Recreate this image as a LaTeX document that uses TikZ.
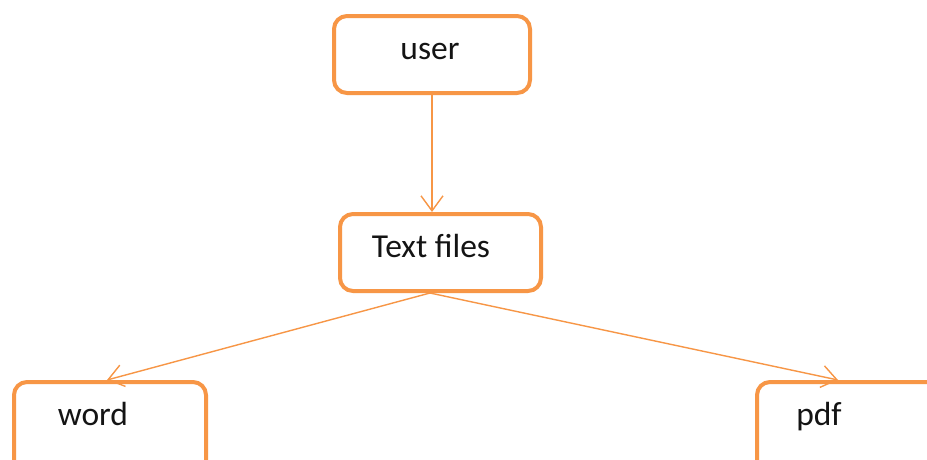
\documentclass[tikz,border=0pt]{standalone}
\usepackage{fontspec}
\setmainfont{Carlito}
\usetikzlibrary{arrows.meta}
\definecolor{accent}{HTML}{F79646}
\definecolor{ink}{HTML}{141414}
\tikzset{
  box/.style={draw=accent, line width=4pt, rounded corners=13pt, fill=white, inner sep=0pt},
  lbl/.style={text=ink, font=\fontsize{33.5}{40}\selectfont, inner sep=0pt, anchor=base},
  link/.style={draw=accent, line width=1.4pt, -{Straight Barb[length=15pt,width=22pt,line width=1.4pt]}}
}
\begin{document}
\begin{tikzpicture}[x=1pt,y=-1pt]
  \useasboundingbox (0,0) rectangle (927,459);
  \clip (0,0) rectangle (927,459);
  \fill[white] (0,0) rectangle (927,459);

  % boxes (outer edges of the strokes measured from the layout)
  \node[box, minimum width=196pt, minimum height=77pt] (user) at (432,54.5) {};
  \node[box, minimum width=201pt, minimum height=77pt] (tf)   at (440.5,252.5) {};
  \node[box, minimum width=192pt, minimum height=110pt] (word) at (110,437) {};
  \node[box, minimum width=240pt, minimum height=110pt] (pdf)  at (877,437) {};

  % labels
  \node[lbl] (userlbl) at (430,59) {user};
  \node[lbl] (tflbl)   at (431,257) {Text files};
  \node[lbl] (wordlbl) at (93,425) {word};
  \node[lbl] (pdflbl)  at (819,425) {pdf};

  % connector end points on the box edges
  \coordinate (uout) at (user.south -| 432,0);
  \coordinate (tin)  at (tf.north -| 432,0);
  \coordinate (tout) at (tf.south -| 430,0);
  \coordinate (win)  at (word.north -| 107,0);
  \coordinate (pin)  at (pdf.north -| 838,0);

  \draw[link] (uout) -- (tin);
  \draw[link] (tout) -- (win);
  \draw[link] (tout) -- (pin);
\end{tikzpicture}
\end{document}
